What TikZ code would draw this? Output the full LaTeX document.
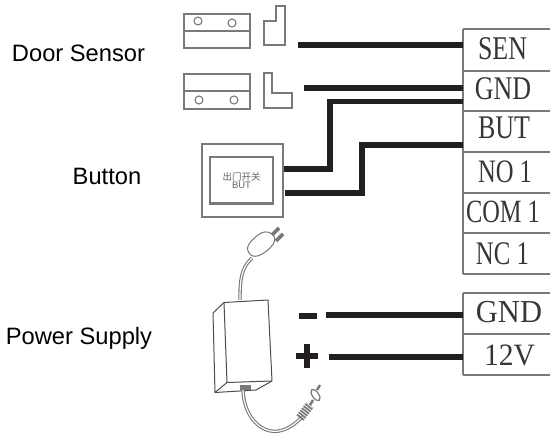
\documentclass[tikz,border=0pt]{standalone}
\usepackage{fontspec}
\setmainfont{Liberation Sans}
\newfontfamily\termfont{Liberation Serif}
\newfontfamily\cjk{Noto Sans CJK SC}
\definecolor{wirecol}{HTML}{231F20}
\definecolor{linecol}{HTML}{7A7878}
\newcommand{\termtext}[3]{\fontsize{#1}{#1}\selectfont\scalebox{1}[#2]{#3}}
\tikzset{
  x=1pt,y=-1pt,
  sidelabel/.style={font=\fontsize{23.7}{26}\selectfont,text=black,inner sep=0pt,anchor=base},
  term/.style={font=\termfont,text=wirecol!90,inner sep=0pt,anchor=base},
  cell/.style={minimum width=87pt,minimum height=20pt,inner sep=0pt,anchor=west},
  outline/.style={draw=linecol,line width=1.1pt,line join=miter},
  rule/.style={draw=linecol,line width=1.1pt},
  wire/.style={draw=wirecol,line width=5.8pt,line join=miter},
  cablewire/.style={draw=linecol,line width=3.4pt},
  cablecore/.style={draw=white,line width=1.2pt},
  boxline/.style={line width=1pt,draw=wirecol!80,line join=round},
}
\begin{document}
\begin{tikzpicture}
\useasboundingbox (0,0) rectangle (550,433);
% labels
\node[sidelabel] (lsensor) at (78.5,61.7) {Door Sensor};
\node[sidelabel] (lbutton) at (107,185) {Button};
\node[sidelabel] (lpower) at (79,345) {Power Supply};
% terminal cells
\node[cell] (sen) at (463,50) {};
\node[cell] (gnd) at (463,91) {};
\node[cell] (but) at (463,131) {};
\node[cell] (no) at (463,172) {};
\node[cell] (com) at (463,213) {};
\node[cell] (nc) at (463,253) {};
\node[cell] (pgnd) at (463,314) {};
\node[cell] (pv) at (463,355) {};
\node[term] (tsen) at (502.5,60) {\termtext{25.9}{1.28}{SEN}};
\node[term] (tgnd) at (503,100) {\termtext{26}{1.27}{GND}};
\node[term] (tbut) at (504,138.5) {\termtext{26}{1.27}{BUT}};
\node[term] (tno) at (505,183) {\termtext{24.6}{1.33}{NO 1}};
\node[term] (tcom) at (503,223) {\termtext{24.4}{1.33}{COM 1}};
\node[term] (tnc) at (502.5,265) {\termtext{24.8}{1.33}{NC 1}};
\node[term] (tpgnd) at (509,323) {\termtext{30.5}{1.05}{GND}};
\node[term] (tpv) at (509.5,366) {\termtext{29.6}{1.05}{12V}};
\foreach \yy in {29,71,111,152,193,233,274,293,334,375}
  \draw[rule] (463,\yy) -- (550,\yy);
\draw[rule] (463,29) -- (463,274);
\draw[rule] (463,293) -- (463,375);
% door sensor, top
\draw[outline] (184,14) rectangle (250,48);
\draw[outline] (184,31) -- (250,31);
\draw[outline] (198,21) circle (4);
\draw[outline] (232,23) circle (4);
\draw[outline] (276,6) -- (285,6) -- (285,45) -- (264,45) -- (264,21) -- (276,21) -- cycle;
% door sensor, bottom
\draw[outline] (184,74) rectangle (250,109);
\draw[outline] (184,91) -- (250,91);
\draw[outline] (199,100) circle (4);
\draw[outline] (234,100) circle (4);
\draw[outline] (264,73) -- (272,73) -- (272,93) -- (292,93) -- (292,108) -- (264,108) -- cycle;
% button
\node[draw=linecol,line width=1.1pt,minimum width=81pt,minimum height=73pt,inner sep=0pt] (btn) at (242.5,180.5) {};
\node[draw=linecol,line width=1.5pt,minimum width=63pt,minimum height=47pt,inner sep=0pt,align=center,font=\fontsize{9.5}{8.5}\selectfont,text=wirecol!70] (btnin) at (241.5,180.5) {{\cjk 出门开关}\\[-0.5pt]BUT};
\draw[draw=linecol,line width=1.5pt] (210,202.5) -- (273,202.5);
% wires
\coordinate (w1) at (298,45);
\coordinate (w2) at (304,88);
\coordinate (w3) at (284,169);
\coordinate (w3b) at (330,169);
\coordinate (w3c) at (330,101.5);
\coordinate (w4) at (285,193);
\coordinate (w4b) at (362,193);
\coordinate (w4c) at (362,145);
\coordinate (m0) at (298.5,316);
\coordinate (m1) at (317,316);
\coordinate (m2) at (326,315);
\coordinate (p1) at (329,357);
\coordinate (p2) at (296,356);
\coordinate (p3) at (318,356);
\coordinate (p4) at (307,344);
\coordinate (p5) at (307,368);
\draw[wire] (w1) -- (w1 -| sen.west);
\draw[wire] (w2) -- (w2 -| gnd.west);
\draw[wire] (w3) -- (w3b) -- (w3c) -- (w3c -| but.west);
\draw[wire] (w4) -- (w4b) -- (w4c) -- (w4c -| but.west);
\draw[wire] (m0) -- (m1);
\draw[wire] (m2) -- (m2 -| pgnd.west);
\draw[wire] (p1) -- (p1 -| pv.west);
\draw[wire,line width=5.5pt] (p2) -- (p3);
\draw[wire,line width=5.5pt] (p4) -- (p5);
% power supply
\draw[boxline] (224,302.5) -- (268,300) -- (272,381) -- (227,382.5) -- cycle;
\draw[boxline] (224,302.5) -- (213,313) -- (215,392.5) -- (227,382.5);
\draw[boxline] (215,392.5) -- (256,390) -- (272,381);
\fill[linecol] (240,385) rectangle (251,390);
% mains cable and plug
\draw[cablewire] (240,300) .. controls (240,280) and (241,268) .. (252,258);
\draw[cablecore] (240,300) .. controls (240,280) and (241,268) .. (252,258);
\draw[draw=linecol,line width=1pt,fill=white] (248.5,252) .. controls (245,246) and (252,240) .. (258,235) .. controls (263,231) and (268,231) .. (272,234) .. controls (277,238) and (275,243) .. (270,248) .. controls (264,254) and (253,261) .. (248.5,252) -- cycle;
\draw[linecol,line width=3.6pt] (272,235) -- (279,228);
\draw[linecol,line width=3.6pt] (276,241) -- (283,234);
% low-voltage cable
\draw[cablewire] (243,390) .. controls (244,418) and (262,434) .. (279,431) .. controls (289,429) and (296,423) .. (302,417);
\draw[cablecore] (243,390) .. controls (244,418) and (262,434) .. (279,431) .. controls (289,429) and (296,423) .. (302,417);
\draw[linecol,line width=9pt,dash pattern=on 1.7pt off 1pt] (300,418) -- (310,405);
\draw[linecol,line width=2.5pt] (310,405) -- (313,400);
\draw[linecol,line width=1.2pt,fill=white,rotate around={-55:(315.5,395)}] (315.5,395) ellipse (6.5 and 3.2);
\draw[linecol,line width=2.4pt] (317,390) -- (320,385);
\end{tikzpicture}
\end{document}
